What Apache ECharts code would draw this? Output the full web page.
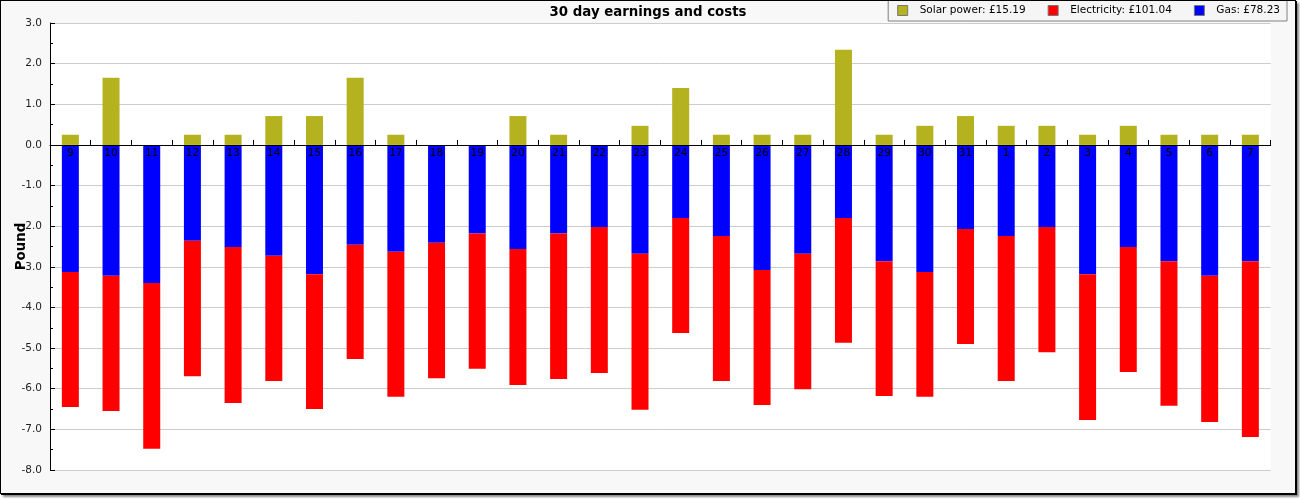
<!DOCTYPE html>
<html>
<head>
<meta charset="utf-8">
<script src="https://cdn.jsdelivr.net/npm/echarts@6/dist/echarts.min.js"></script>
<style>
html,body{margin:0;padding:0;background:#fff;}
#frame{position:absolute;left:0;top:0;width:1294px;height:492px;border:1px solid #000;
  box-shadow:1px 1px 0 #000, 3px 3px 2px #888;background:#f8f8f8;}
#chart{width:1294px;height:492px;}
</style>
</head>
<body>
<div id="frame"><div id="chart"></div></div>
<script>
const title = '30 day earnings and costs';
const categories = ['9','10','11','12','13','14','15','16','17','18','19','20','21','22','23','24','25','26','27','28','29','30','31','1','2','3','4','5','6','7'];
const solarName = 'Solar power: £15.19';
const electricityName = 'Electricity: £101.04';
const gasName = 'Gas: £78.23';
const solar = [0.25,1.65,0,0.25,0.25,0.71,0.71,1.65,0.25,0, 0,0.71,0.25,0,0.47,1.40,0.25,0.25,0.25,2.34, 0.25,0.47,0.71,0.47,0.47,0.25,0.47,0.25,0.25,0.25];
const gas = [-3.13,-3.22,-3.40,-2.36,-2.51,-2.73,-3.18,-2.46,-2.63,-2.41, -2.18,-2.56,-2.18,-2.02,-2.68,-1.80,-2.24,-3.08,-2.68,-1.80, -2.86,-3.13,-2.07,-2.24,-2.02,-3.18,-2.51,-2.86,-3.22,-2.86];
const electricity = [-3.32,-3.33,-4.08,-3.33,-3.84,-3.08,-3.32,-2.81,-3.57,-3.33, -3.33,-3.35,-3.58,-3.59,-3.84,-2.83,-3.57,-3.32,-3.33,-3.07, -3.32,-3.07,-2.83,-3.57,-3.08,-3.59,-3.08,-3.56,-3.60,-4.33];
const yMin = -8, yMax = 3, yStep = 1;

const font = 'DejaVu Sans';
const gridTop = 22, gridBottom = 23, chartH = 492;
const plotH = chartH - gridTop - gridBottom;
// shift the category axis up to the zero value line
const zeroOffset = -plotH * (0 - yMin) / (yMax - yMin);

const chart = echarts.init(document.getElementById('chart'), null, {renderer:'canvas'});
chart.setOption({
  animation:false,
  textStyle:{fontFamily:font},
  title:{text:title,left:'center',top:5,padding:0,
    textStyle:{fontFamily:font,fontSize:13.33,fontWeight:'bold',color:'#000'}},
  legend:{
    data:[solarName,electricityName,gasName],
    right:8, top:-1,
    orient:'horizontal',
    backgroundColor:'#f5f5f5', borderColor:'#808080', borderWidth:1, borderRadius:0,
    padding:[5,7,5,9],
    itemWidth:10, itemHeight:10, itemGap:22,
    icon:'rect',
    itemStyle:{borderColor:'#777',borderWidth:1},
    textStyle:{fontFamily:font,fontSize:10.5,color:'#000',padding:[0,0,0,7]}
  },
  grid:{left:49,top:gridTop,right:24.3,bottom:gridBottom,show:true,backgroundColor:'#fff',borderWidth:0,
    containLabel:false,outerBoundsMode:'none'},
  xAxis:{
    type:'category', data:categories, z:5, offset:zeroOffset,
    axisLine:{onZero:false,lineStyle:{color:'#000',width:1}},
    axisTick:{show:true,inside:true,length:5,lineStyle:{color:'#000'}},
    axisLabel:{margin:3,fontFamily:font,fontSize:10.5,color:'#000',interval:0,hideOverlap:false},
    splitLine:{show:false}
  },
  yAxis:{
    type:'value', min:yMin, max:yMax, interval:yStep,
    name:'Pound', nameLocation:'middle', nameGap:22, nameMoveOverlap:false,
    nameTextStyle:{fontFamily:font,fontSize:13.33,fontWeight:'bold',color:'#000'},
    axisLine:{show:true,lineStyle:{color:'#000'}},
    axisTick:{show:true,inside:true,length:5,lineStyle:{color:'#000'}},
    minorTick:{show:true,splitNumber:2,length:3,lineStyle:{color:'#000'}},
    axisLabel:{margin:8,fontFamily:font,fontSize:10.5,color:'#222',formatter:v=>v.toFixed(1)},
    splitLine:{show:true,lineStyle:{color:'#cccccc',width:1}}
  },
  series:[
    {name:solarName,type:'bar',stack:'t',data:solar,barWidth:17,itemStyle:{color:'#b4b21e'}},
    {name:gasName,type:'bar',stack:'t',data:gas,barWidth:17,itemStyle:{color:'#0000ff'}},
    {name:electricityName,type:'bar',stack:'t',data:electricity,barWidth:17,itemStyle:{color:'#ff0000'}}
  ]
});
</script>
</body>
</html>
